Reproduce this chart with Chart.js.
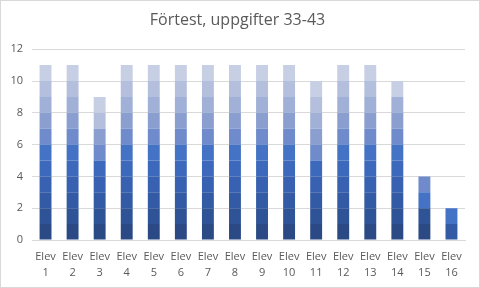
<!DOCTYPE html>
<html>
<head>
<meta charset="utf-8">
<script src="https://cdn.jsdelivr.net/npm/chart.js@4.4.0/dist/chart.umd.min.js"></script>
<style>
  html, body { margin: 0; padding: 0; background: #fff; }
  #wrap { position: relative; width: 478px; height: 286px; border: 1px solid #d9d9d9; }
</style>
</head>
<body>
<div id="wrap"><canvas id="c" width="478" height="286"></canvas></div>
<script>
// elever
const students = ["1","2","3","4","5","6","7","8","9","10","11","12","13","14","15","16"];
// uppgifter 33-43, 1 = rätt
const tasks = ["33","34","35","36","37","38","39","40","41","42","43"];
const u33 = [1,1,1,1,1,1,1,1,1,1,1,1,1,1,1,0];
const u34 = [1,1,1,1,1,1,1,1,1,1,1,1,1,1,1,0];
const u35 = [1,1,1,1,1,1,1,1,1,1,1,1,1,1,0,1];
const u36 = [1,1,1,1,1,1,1,1,1,1,1,1,1,1,0,0];
const u37 = [1,1,1,1,1,1,1,1,1,1,1,1,1,1,0,0];
const u38 = [1,1,0,1,1,1,1,1,1,1,0,1,1,1,1,1];
const u39 = [1,1,1,1,1,1,1,1,1,1,1,1,1,1,1,0];
const u40 = [1,1,1,1,1,1,1,1,1,1,1,1,1,1,0,0];
const u41 = [1,1,0,1,1,1,1,1,1,1,1,1,1,1,0,0];
const u42 = [1,1,1,1,1,1,1,1,1,1,1,1,1,0,0,0];
const u43 = [1,1,1,1,1,1,1,1,1,1,1,1,1,1,0,0];
const series = [u33,u34,u35,u36,u37,u38,u39,u40,u41,u42,u43];
const colors = ["#2b4a85","#2f5397","#335aa4","#3862b1","#3c69bc","#4472c4",
                "#6f8bcb","#8a9ecf","#a0b0d7","#b4bfdd","#c7cfe5"];
const yTicks = [0,2,4,6,8,10,12];

new Chart(document.getElementById("c"), {
  type: "bar",
  data: {
    labels: students.map(s => ["Elev", s]),
    datasets: series.map((d, i) => ({
      label: "Uppgift " + tasks[i],
      data: d,
      backgroundColor: colors[i],
      borderWidth: 0,
      barPercentage: 0.44,
      categoryPercentage: 1
    }))
  },
  options: {
    responsive: false,
    animation: false,
    layout: { padding: { left: 9, right: 14, top: 6, bottom: 8 } },
    plugins: {
      legend: { display: false },
      tooltip: { enabled: false },
      title: {
        display: true,
        text: "Förtest, uppgifter 33-43",
        color: "#595959",
        font: { family: "'Open Sans', sans-serif", size: 16, weight: "normal" },
        padding: { top: 4, bottom: 19 }
      }
    },
    scales: {
      x: {
        stacked: true,
        grid: { display: false },
        border: { color: "#d9d9d9" },
        ticks: { color: "#595959", font: { family: "'Open Sans', sans-serif", size: 11, lineHeight: 1.45 }, maxRotation: 0, padding: 1 },
        afterFit: s => { s.height = 39; }
      },
      y: {
        stacked: true,
        min: 0, max: 12,
        afterBuildTicks: s => { s.ticks = yTicks.map(v => ({ value: v })); },
        grid: { color: "#d9d9d9", drawTicks: false },
        border: { display: false },
        ticks: { color: "#595959", font: { family: "'Open Sans', sans-serif", size: 11 }, padding: 9 },
        afterFit: s => { s.width = 22; }
      }
    }
  }
});
</script>
</body>
</html>
